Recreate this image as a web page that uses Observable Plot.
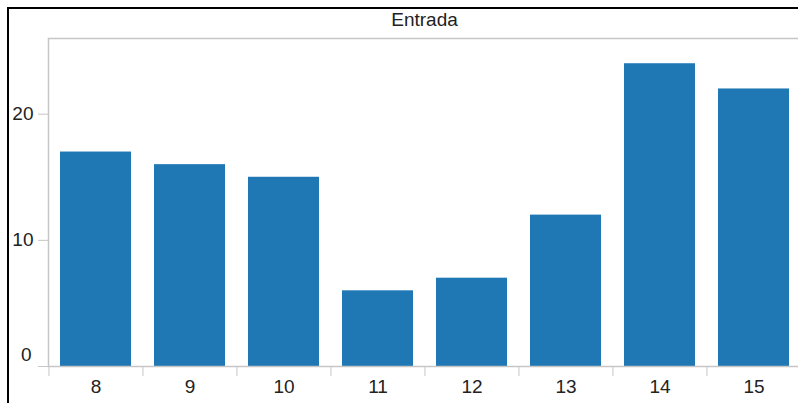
<!DOCTYPE html>
<html>
<head>
<meta charset="utf-8">
<script src="https://cdn.jsdelivr.net/npm/d3@7"></script>
<script src="https://cdn.jsdelivr.net/npm/@observablehq/plot@0.6"></script>
<style>
  html, body { margin: 0; padding: 0; background: #fff; overflow: hidden; width: 798px; height: 403px; }
  #frame { position: absolute; left: 7px; top: 7px; width: 800px; height: 400px;
           border-left: 2px solid #000; border-top: 2px solid #000; }
  #title { position: absolute; left: 39px; top: 0; width: 753px; height: 22px; line-height: 22px;
           text-align: center; font: 19px "Liberation Sans", Arial, sans-serif; color: #222; }
  #chart { position: absolute; left: 0; top: 28px; }
</style>
</head>
<body>
<div id="frame">
  <div id="title">Entrada</div>
  <div id="chart"></div>
</div>
<script>
const categories = ["8", "9", "10", "11", "12", "13", "14", "15"];
const values = [17, 16, 15, 6, 7, 12, 24, 22];
const yTicks = [0, 10, 20];

const data = categories.map((c, i) => ({hour: c, count: values[i]}));

const width = 792, marginLeft = 39, marginRight = 0;
const step = (width - marginLeft - marginRight) / categories.length;
const grey = "#c6c6c6";

const chart = Plot.plot({
  width,
  height: 366,
  marginLeft,
  marginRight,
  marginTop: 1,
  marginBottom: 37,
  style: {fontFamily: "'Liberation Sans', Arial, sans-serif", fontSize: "19px", color: "#222", background: "transparent"},
  x: {domain: categories, paddingInner: 0.245, paddingOuter: 0.1225, label: null},
  y: {domain: [0, 26], label: null},
  marks: [
    Plot.barY(data, {x: "hour", y: "count", fill: "#1f77b4"}),
    Plot.frame({stroke: grey, strokeWidth: 1.5}),
    Plot.axisY({ticks: yTicks, tickSize: 10, tickPadding: 5, stroke: grey, fill: "#222",
                tickFormat: d => d === 0 ? "" : d, label: null}),
    Plot.axisY({ticks: [0], tickSize: 0, tickPadding: 17, dy: -12, fill: "#222", label: null}),
    Plot.axisX({tickSize: 10, stroke: grey, dx: -step / 2, tickFormat: () => "", label: null}),
    Plot.axisX({tickSize: 0, tickPadding: 13, fill: "#222", label: null})
  ]
});
document.getElementById("chart").appendChild(chart);
</script>
</body>
</html>
